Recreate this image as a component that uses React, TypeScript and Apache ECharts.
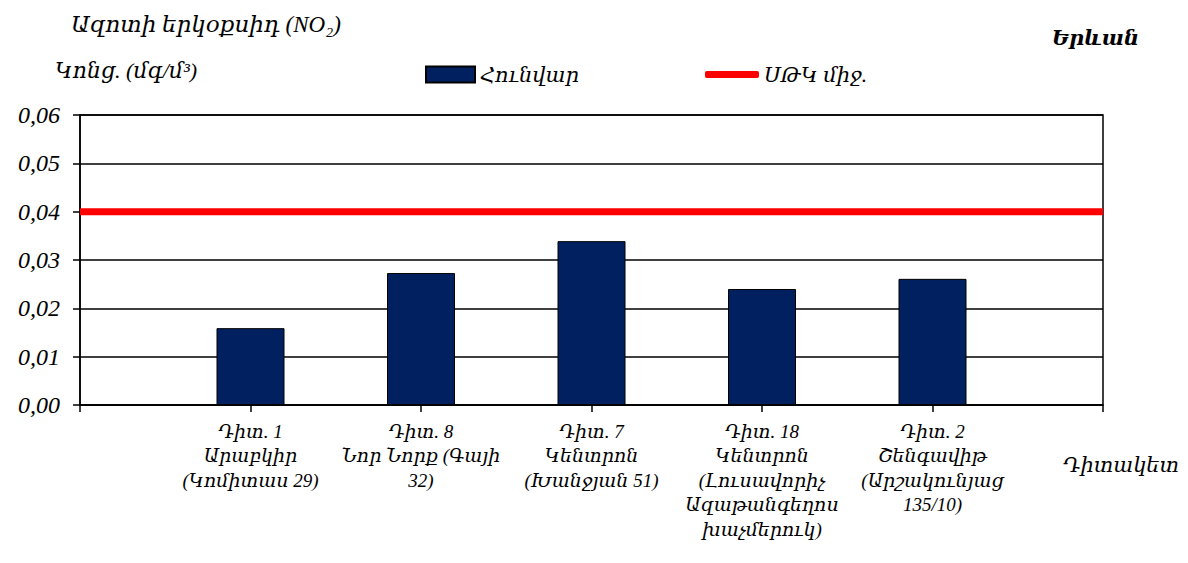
import React, { useEffect, useRef } from "react";
import * as echarts from "echarts";

const FONT = "'Liberation Serif', 'DejaVu Serif', serif";

const categories = [
  "",
  "Դիտ. 1\nԱրաբկիր\n(Կոմիտաս 29)",
  "Դիտ. 8\nՆոր Նորք (Գայի\n32)",
  "Դիտ. 7\nԿենտրոն\n(Խանջյան 51)",
  "Դիտ. 18\nԿենտրոն\n(Լուսավորիչ\nԱզաթանգեղոս\nխաչմերուկ)",
  "Դիտ. 2\nՇենգավիթ\n(Արշակունյաց\n135/10)",
  "",
];
const januaryValues = [null, 0.0159, 0.0273, 0.0339, 0.024, 0.0261, null];
const limitValues = [0.04, 0.04, 0.04, 0.04, 0.04, 0.04, 0.04];
const yTicks = [0, 0.01, 0.02, 0.03, 0.04, 0.05, 0.06];

const seriesNames = ["Հունվար", "ՍԹԿ միջ."];

export default function App() {
  const ref = useRef<HTMLDivElement>(null);
  useEffect(() => {
    if (!ref.current) return;
    const chart = echarts.init(ref.current, null, { renderer: "svg" });
    chart.setOption({
      animation: false,
      backgroundColor: "#fff",
      grid: {
        left: 80,
        right: 85,
        top: 115,
        bottom: 158,
        show: true,
        borderColor: "#000",
        borderWidth: 1.5,
        backgroundColor: "transparent",
      },
      title: [
        {
          text: "Ազոտի երկօքսիդ (NO₂)",
          left: 66,
          top: 8,
          textStyle: { fontFamily: FONT, fontStyle: "italic", fontWeight: "normal", fontSize: 23, color: "#000" },
        },
        {
          text: "Կոնց. (մգ/մ³)",
          left: 50,
          top: 54,
          textStyle: { fontFamily: FONT, fontStyle: "italic", fontWeight: "normal", fontSize: 22, color: "#000" },
        },
        {
          text: "Երևան",
          right: 44,
          top: 22,
          textStyle: { fontFamily: FONT, fontStyle: "italic", fontWeight: "bold", fontSize: 21, color: "#000" },
        },
        {
          text: "Դիտակետ",
          left: 1058,
          top: 449,
          textStyle: { fontFamily: FONT, fontStyle: "italic", fontWeight: "normal", fontSize: 21, color: "#000" },
        },
      ],
      legend: [
        {
          data: [seriesNames[0]],
          left: 425,
          top: 64,
          padding: 0,
          icon: "rect",
          itemWidth: 49,
          itemHeight: 16,
          textStyle: { fontFamily: FONT, fontStyle: "italic", fontSize: 21, color: "#000" },
        },
        {
          data: [seriesNames[1]],
          left: 705,
          top: 64,
          padding: 0,
          icon: "roundRect",
          itemWidth: 54,
          itemHeight: 7,
          textStyle: { fontFamily: FONT, fontStyle: "italic", fontSize: 21, color: "#000" },
        },
      ],
      xAxis: {
        type: "category",
        boundaryGap: false,
        data: categories,
        axisLine: { lineStyle: { color: "#000", width: 1.5 } },
        axisTick: { show: true, length: 7, lineStyle: { color: "#000", width: 1.5 } },
        axisLabel: {
          interval: 0,
          margin: 14,
          fontFamily: FONT,
          fontStyle: "italic",
          fontSize: 19,
          lineHeight: 24.5,
          color: "#000",
          align: "center",
        },
      },
      yAxis: {
        type: "value",
        min: 0,
        max: 0.06,
        interval: 0.01,
        axisLine: { show: true, lineStyle: { color: "#000", width: 1.5 } },
        axisTick: { show: true, length: 7, lineStyle: { color: "#000", width: 1.5 } },
        splitLine: { show: true, lineStyle: { color: "#000", width: 1.5 } },
        axisLabel: {
          margin: 20,
          fontFamily: FONT,
          fontStyle: "italic",
          fontSize: 24,
          color: "#000",
          formatter: (v: number) => {
            const t = yTicks.find((x) => Math.abs(x - v) < 1e-9);
            return (t ?? v).toFixed(2).replace(".", ",");
          },
        },
      },
      series: [
        {
          name: seriesNames[0],
          type: "bar",
          data: januaryValues,
          barWidth: 68,
          itemStyle: { color: "#002060", borderColor: "#000", borderWidth: 1 },
          z: 2,
        },
        {
          name: seriesNames[1],
          type: "line",
          data: limitValues,
          showSymbol: false,
          symbol: "none",
          lineStyle: { color: "#ff0000", width: 7 },
          itemStyle: { color: "#ff0000" },
          z: 3,
        },
      ],
    });
    return () => chart.dispose();
  }, []);
  return <div ref={ref} style={{ width: 1188, height: 563, margin: -8 }} />;
}
